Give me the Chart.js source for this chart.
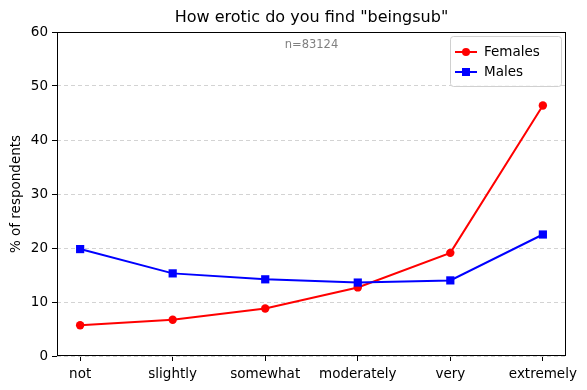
<!DOCTYPE html>
<html>
<head>
<meta charset="utf-8">
<script src="https://cdn.jsdelivr.net/npm/chart.js@4"></script>
<style>
  html, body { margin: 0; padding: 0; background: #fff; }
  canvas { display: block; }
</style>
</head>
<body>
<canvas id="chart" width="587" height="390"></canvas>
<script>
const chartTitle = 'How erotic do you find "beingsub"';
const sampleNote = 'n=83124';
const categories = ['not', 'slightly', 'somewhat', 'moderately', 'very', 'extremely'];
const femaleValues = [5.7, 6.7, 8.8, 12.7, 19.1, 46.4];
const maleValues = [19.8, 15.3, 14.2, 13.6, 14.0, 22.5];
const yTicks = [0, 10, 20, 30, 40, 50, 60];

const FONT = "'DejaVu Sans', sans-serif";

// legend + frame + n= note, matplotlib style
const extras = {
    id: 'extras',
    afterDatasetsDraw(chart) {
        const { ctx, chartArea: a } = chart;
        ctx.save();
        ctx.strokeStyle = '#000';
        ctx.lineWidth = 1;
        ctx.strokeRect(a.left + 0.5, a.top + 0.5, a.right - a.left - 1, a.bottom - a.top - 1);

        ctx.fillStyle = '#808080';
        ctx.font = '11.5px ' + FONT;
        ctx.textAlign = 'center';
        ctx.textBaseline = 'middle';
        ctx.fillText(sampleNote, (a.left + a.right) / 2, a.top + 13);

        // legend box
        const bx = 450, by = 36, bw = 111, bh = 50;
        ctx.fillStyle = 'rgba(255,255,255,0.8)';
        ctx.strokeStyle = '#d0d0d0';
        ctx.beginPath();
        ctx.roundRect(bx + 0.5, by + 0.5, bw, bh, 3);
        ctx.fill();
        ctx.stroke();

        chart.data.datasets.forEach((ds, i) => {
            const y = by + 16 + i * 20;
            ctx.strokeStyle = ds.borderColor;
            ctx.lineWidth = 2;
            ctx.beginPath();
            ctx.moveTo(455, y);
            ctx.lineTo(477, y);
            ctx.stroke();
            ctx.fillStyle = ds.backgroundColor;
            if (ds.pointStyle === 'rect') {
                ctx.fillRect(462, y - 4, 8, 8);
            } else {
                ctx.beginPath();
                ctx.arc(466, y, 4, 0, Math.PI * 2);
                ctx.fill();
            }
            ctx.fillStyle = '#000';
            ctx.font = '13.5px ' + FONT;
            ctx.textAlign = 'left';
            ctx.fillText(ds.label, 484, y);
        });
        ctx.restore();
    }
};

new Chart(document.getElementById('chart'), {
    type: 'line',
    data: {
        datasets: [
            {
                label: 'Females',
                data: femaleValues.map((v, i) => ({ x: i, y: v })),
                borderColor: '#ff0000',
                backgroundColor: '#ff0000',
                borderWidth: 2,
                pointStyle: 'circle',
                pointRadius: 4.2,
                pointBorderWidth: 0,
                order: 2
            },
            {
                label: 'Males',
                data: maleValues.map((v, i) => ({ x: i, y: v })),
                borderColor: '#0000ff',
                backgroundColor: '#0000ff',
                borderWidth: 2,
                pointStyle: 'rect',
                pointRadius: 5.8,
                pointBorderWidth: 0,
                order: 1
            }
        ]
    },
    options: {
        responsive: false,
        animation: false,
        layout: { padding: { left: 0, right: 21, top: 0, bottom: 0 } },
        plugins: {
            legend: { display: false },
            tooltip: { enabled: false },
            title: {
                display: true,
                fullSize: false,
                text: chartTitle,
                color: '#000',
                font: { family: FONT, size: 16, weight: 'normal' },
                padding: { top: 8, bottom: 4.8 }
            }
        },
        scales: {
            x: {
                type: 'linear',
                min: -0.25,
                max: 5.25,
                afterBuildTicks: s => { s.ticks = categories.map((_, i) => ({ value: i })); },
                afterFit: s => { s.height = 34; },
                ticks: {
                    color: '#000',
                    font: { family: FONT, size: 13.5 },
                    padding: 5,
                    maxRotation: 0,
                    autoSkip: false,
                    callback: v => categories[v]
                },
                grid: { drawOnChartArea: false, tickColor: '#000', tickLength: 5 },
                border: { display: false }
            },
            y: {
                min: 0,
                max: 60,
                afterBuildTicks: s => { s.ticks = yTicks.map(v => ({ value: v })); },
                afterFit: s => { s.width = 57; },
                title: {
                    display: true,
                    text: '% of respondents',
                    color: '#000',
                    font: { family: FONT, size: 13.5 },
                    padding: { top: 8, bottom: 0 }
                },
                ticks: {
                    color: '#000',
                    font: { family: FONT, size: 13.5 },
                    padding: 4
                },
                grid: {
                    color: '#d3d3d3',
                    tickColor: '#000',
                    tickLength: 5,
                    tickBorderDash: []
                },
                border: { display: false, dash: [4, 3] }
            }
        }
    },
    plugins: [extras]
});
</script>
</body>
</html>
